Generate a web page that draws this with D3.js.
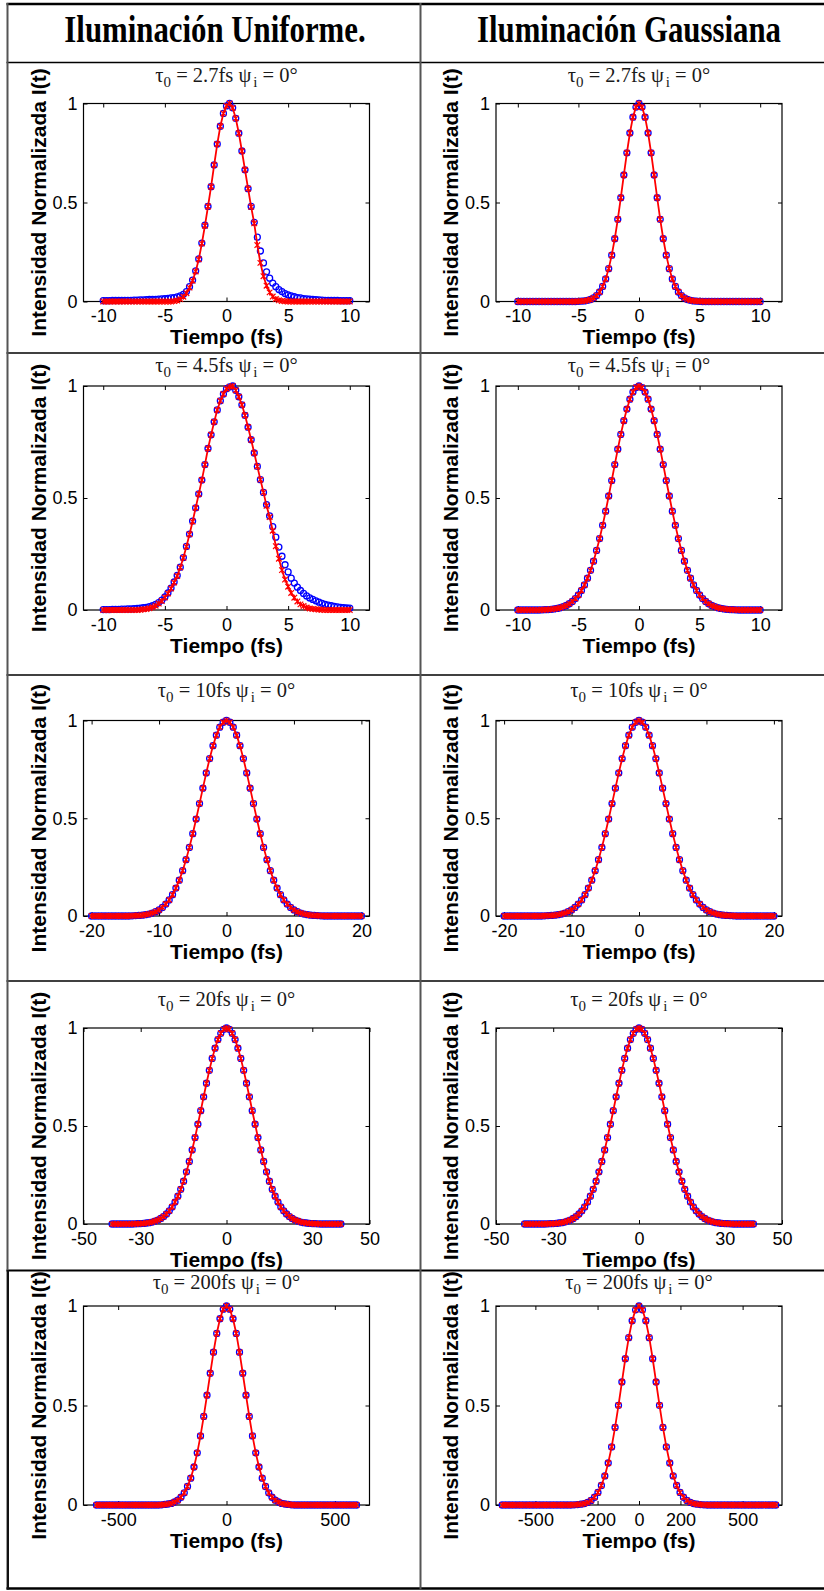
<!DOCTYPE html>
<html><head><meta charset="utf-8">
<script src="https://cdn.jsdelivr.net/npm/d3@7"></script>
<style>body{margin:0;background:#fff}svg{display:block}</style>
</head><body>
<svg id="c" width="824" height="1591"></svg>
<script>
// ---------- sample times (fs) ----------
const tGrid10 = [-10,-9.75,-9.5,-9.25,-9,-8.75,-8.5,-8.25,-8,-7.75,-7.5,-7.25,-7,-6.75,-6.5,-6.25,-6,-5.75,-5.5,-5.25,-5,-4.75,-4.5,-4.25,-4,-3.75,-3.5,-3.25,-3,-2.75,-2.5,-2.25,-2,-1.75,-1.5,-1.25,-1,-0.75,-0.5,-0.25,0,0.25,0.5,0.75,1,1.25,1.5,1.75,2,2.25,2.5,2.75,3,3.25,3.5,3.75,4,4.25,4.5,4.75,5,5.25,5.5,5.75,6,6.25,6.5,6.75,7,7.25,7.5,7.75,8,8.25,8.5,8.75,9,9.25,9.5,9.75,10];
const tGrid20 = [-20,-19.5,-19,-18.5,-18,-17.5,-17,-16.5,-16,-15.5,-15,-14.5,-14,-13.5,-13,-12.5,-12,-11.5,-11,-10.5,-10,-9.5,-9,-8.5,-8,-7.5,-7,-6.5,-6,-5.5,-5,-4.5,-4,-3.5,-3,-2.5,-2,-1.5,-1,-0.5,0,0.5,1,1.5,2,2.5,3,3.5,4,4.5,5,5.5,6,6.5,7,7.5,8,8.5,9,9.5,10,10.5,11,11.5,12,12.5,13,13.5,14,14.5,15,15.5,16,16.5,17,17.5,18,18.5,19,19.5,20];
const tGrid40 = [-40,-39,-38,-37,-36,-35,-34,-33,-32,-31,-30,-29,-28,-27,-26,-25,-24,-23,-22,-21,-20,-19,-18,-17,-16,-15,-14,-13,-12,-11,-10,-9,-8,-7,-6,-5,-4,-3,-2,-1,0,1,2,3,4,5,6,7,8,9,10,11,12,13,14,15,16,17,18,19,20,21,22,23,24,25,26,27,28,29,30,31,32,33,34,35,36,37,38,39,40];
const tGrid600 = [-600,-585,-570,-555,-540,-525,-510,-495,-480,-465,-450,-435,-420,-405,-390,-375,-360,-345,-330,-315,-300,-285,-270,-255,-240,-225,-210,-195,-180,-165,-150,-135,-120,-105,-90,-75,-60,-45,-30,-15,0,15,30,45,60,75,90,105,120,135,150,165,180,195,210,225,240,255,270,285,300,315,330,345,360,375,390,405,420,435,450,465,480,495,510,525,540,555,570,585,600];
const tGrid660 = [-660,-643.5,-627,-610.5,-594,-577.5,-561,-544.5,-528,-511.5,-495,-478.5,-462,-445.5,-429,-412.5,-396,-379.5,-363,-346.5,-330,-313.5,-297,-280.5,-264,-247.5,-231,-214.5,-198,-181.5,-165,-148.5,-132,-115.5,-99,-82.5,-66,-49.5,-33,-16.5,0,16.5,33,49.5,66,82.5,99,115.5,132,148.5,165,181.5,198,214.5,231,247.5,264,280.5,297,313.5,330,346.5,363,379.5,396,412.5,429,445.5,462,478.5,495,511.5,528,544.5,561,577.5,594,610.5,627,643.5,660];

// ---------- normalized intensity readings ----------
// Row 1, uniform illumination (tau0 = 2.7 fs)
const u1Blue = [.004,.004,.004,.005,.005,.005,.005,.006,.006,.006,.007,.007,.008,.008,.009,.010,.010,.011,.012,.013,.014,.016,.018,.020,.023,.028,.036,.050,.075,.108,.155,.215,.295,.385,.480,.580,.690,.795,.885,.950,.988,1.000,.978,.925,.850,.760,.665,.570,.480,.400,.325,.255,.195,.150,.118,.093,.075,.060,.050,.040,.033,.028,.024,.020,.018,.015,.013,.012,.010,.009,.008,.007,.006,.006,.005,.005,.005,.004,.004,.004,.004];
const u1Red  = [0,0,0,0,0,0,0,0,0,0,0,0,0,0,0,0,0,0,0,0,0,0,0,.002,.005,.012,.024,.042,.070,.105,.152,.213,.293,.383,.480,.580,.690,.795,.885,.950,.988,1.000,.978,.925,.850,.760,.665,.570,.478,.395,.285,.195,.128,.080,.046,.025,.013,.006,.003,.001,0,0,0,0,0,0,0,0,0,0,0,0,0,0,0,0,0,0,0,0,0];
// Row 1, gaussian illumination
const g1 = [0,0,0,0,0,0,0,0,0,0,0,0,0,0,0,0,0,0,0,0,.001,.002,.003,.006,.010,.018,.030,.048,.076,.114,.166,.234,.317,.415,.524,.639,.751,.851,.931,.982,1,.982,.931,.851,.751,.639,.524,.415,.317,.234,.166,.114,.076,.048,.030,.018,.010,.006,.003,.002,.001,0,0,0,0,0,0,0,0,0,0,0,0,0,0,0,0,0,0,0,0];
// Row 2, uniform illumination (tau0 = 4.5 fs)
const u2Blue = [.002,.002,.002,.003,.003,.003,.004,.004,.005,.005,.006,.007,.008,.010,.012,.015,.019,.025,.033,.044,.058,.076,.098,.125,.154,.191,.234,.284,.339,.397,.456,.518,.580,.649,.721,.782,.840,.893,.934,.964,.988,.996,1.000,.981,.952,.916,.869,.816,.760,.701,.641,.582,.525,.470,.420,.372,.325,.281,.240,.202,.170,.142,.120,.102,.087,.074,.063,.054,.047,.041,.035,.030,.025,.022,.019,.016,.014,.012,.010,.009,.008];
const u2Red  = [0,0,0,0,0,0,0,0,0,0,0,0,.001,.003,.004,.008,.012,.019,.029,.040,.056,.074,.096,.123,.152,.190,.233,.283,.338,.395,.456,.518,.580,.649,.721,.782,.840,.893,.934,.964,.988,.996,1.000,.981,.952,.916,.869,.816,.760,.701,.641,.582,.525,.465,.415,.354,.285,.229,.178,.136,.104,.076,.055,.038,.025,.018,.011,.007,.005,.003,.002,.001,0,0,0,0,0,0,0,0,0];
// Row 2, gaussian illumination
const g2 = [0,0,0,0,0,0,0,0,.001,.0015,.002,.003,.005,.007,.010,.015,.020,.028,.038,.051,.067,.087,.112,.142,.177,.218,.266,.319,.378,.441,.509,.578,.649,.718,.784,.845,.897,.941,.973,.993,1,.993,.973,.941,.897,.845,.784,.718,.649,.578,.509,.441,.378,.319,.266,.218,.177,.142,.112,.087,.067,.051,.038,.028,.020,.015,.010,.007,.005,.003,.002,.0015,.001,0,0,0,0,0,0,0,0];
// Row 3 (tau0 = 10 fs), both illuminations
const g3 = [0,0,0,0,0,0,0,0,0,0,0,0,.001,.002,.003,.004,.007,.010,.015,.022,.031,.044,.061,.082,.109,.143,.183,.232,.288,.351,.421,.496,.575,.654,.732,.805,.871,.925,.966,.991,1,.991,.966,.925,.871,.805,.732,.654,.575,.496,.421,.351,.288,.232,.183,.143,.109,.082,.061,.044,.031,.022,.015,.010,.007,.004,.003,.002,.001,0,0,0,0,0,0,0,0,0,0,0,0];
// Row 4 (tau0 = 20 fs), both illuminations
const g4 = [0,0,0,0,0,0,0,0,.001,.0015,.002,.003,.005,.007,.010,.015,.020,.028,.038,.051,.067,.087,.112,.142,.177,.218,.266,.319,.378,.441,.509,.578,.649,.718,.784,.845,.897,.941,.973,.993,1,.993,.973,.941,.897,.845,.784,.718,.649,.578,.509,.441,.378,.319,.266,.218,.177,.142,.112,.087,.067,.051,.038,.028,.020,.015,.010,.007,.005,.003,.002,.0015,.001,0,0,0,0,0,0,0,0];
// Row 5 (tau0 = 200 fs)
const g5L = [0,0,0,0,0,0,0,0,0,0,0,0,0,0,0,0,0,0,0,0,.001,.003,.005,.008,.015,.024,.039,.061,.093,.135,.191,.262,.347,.445,.552,.662,.768,.862,.936,.984,1,.984,.936,.862,.768,.662,.552,.445,.347,.262,.191,.135,.093,.061,.039,.024,.015,.008,.005,.003,.001,0,0,0,0,0,0,0,0,0,0,0,0,0,0,0,0,0,0,0,0];
const g5R = [0,0,0,0,0,0,0,0,0,0,0,0,0,0,0,0,0,0,0,0,0,.001,.002,.004,.007,.013,.023,.039,.063,.098,.146,.211,.292,.390,.501,.618,.735,.841,.926,.981,1,.981,.926,.841,.735,.618,.501,.390,.292,.211,.146,.098,.063,.039,.023,.013,.007,.004,.002,.001,0,0,0,0,0,0,0,0,0,0,0,0,0,0,0,0,0,0,0,0,0];

// ---------- labels / ticks ----------
const columnTitles = ['Iluminación Uniforme.', 'Iluminación Gaussiana'];
const tauLabels = ['2.7', '4.5', '10', '20', '200'];
const yTicks = [0, 0.5, 1];
const xTicks10 = [-10, -5, 0, 5, 10];
const xTicks20 = [-20, -10, 0, 10, 20];
const xTicks50 = [-50, -30, 0, 30, 50];
const xTicks500 = [-500, 0, 500];
const xTicks500g = [-500, -200, 0, 200, 500];

const panels = [
  {row:0,col:0,xDomain:[-11.6,11.6],xTicks:xTicks10,t:tGrid10,blue:u1Blue,red:u1Red},
  {row:0,col:1,xDomain:[-11.8,11.8],xTicks:xTicks10,t:tGrid10,blue:g1,red:g1},
  {row:1,col:0,xDomain:[-11.6,11.6],xTicks:xTicks10,t:tGrid10,blue:u2Blue,red:u2Red},
  {row:1,col:1,xDomain:[-11.8,11.8],xTicks:xTicks10,t:tGrid10,blue:g2,red:g2},
  {row:2,col:0,xDomain:[-21.2,21.2],xTicks:xTicks20,t:tGrid20,blue:g3,red:g3},
  {row:2,col:1,xDomain:[-21.2,21.2],xTicks:xTicks20,t:tGrid20,blue:g3,red:g3},
  {row:3,col:0,xDomain:[-50,50],xTicks:xTicks50,t:tGrid40,blue:g4,red:g4},
  {row:3,col:1,xDomain:[-50,50],xTicks:xTicks50,t:tGrid40,blue:g4,red:g4},
  {row:4,col:0,xDomain:[-660,660],xTicks:xTicks500,t:tGrid600,blue:g5L,red:g5L},
  {row:4,col:1,xDomain:[-690,690],xTicks:xTicks500g,t:tGrid660,blue:g5R,red:g5R}
];

// ---------- layout ----------
const W = 824, H = 1591;
const colLeft = [7.5, 420];
const axL = 76, axW = 286;
const rowAxisTop = [103.5, 386, 720.5, 1028, 1306];
const rowAxisH = [198, 224, 195.5, 196, 199];
const rowTitleGap = [22, 14.5, 24, 22.5, 17.5];
const SANS = '"Liberation Sans", Arial, sans-serif';
const SERIF = '"Liberation Serif", "Times New Roman", serif';

const svg = d3.select('#c');
svg.append('rect').attr('width', W).attr('height', H).attr('fill', '#fff');

// table grid
const tbl = svg.append('g');
const hl = [[4,2.5],[62.5,1.4],[353,1.6],[675,1.4],[981,1.4],[1270.5,1.8],[1588.5,2.5]];
hl.forEach(([y,w]) => tbl.append('line').attr('x1',6.5).attr('x2',W).attr('y1',y).attr('y2',y).attr('stroke','#000').attr('stroke-width',w));
tbl.append('line').attr('x1',7.5).attr('x2',7.5).attr('y1',3).attr('y2',1270).attr('stroke','#555').attr('stroke-width',2);
tbl.append('line').attr('x1',7.8).attr('x2',7.8).attr('y1',1270).attr('y2',1589.5).attr('stroke','#111').attr('stroke-width',2.4);
tbl.append('line').attr('x1',420.5).attr('x2',420.5).attr('y1',3).attr('y2',1589.5).attr('stroke','#555').attr('stroke-width',2);

// column titles (condensed bold serif)
columnTitles.forEach((s,i) => {
  const cx = i === 0 ? 215 : 629;
  svg.append('text').attr('transform',`translate(${cx},42) scale(0.833,1)`).attr('text-anchor','middle')
    .attr('font-family',SERIF).attr('font-weight','bold').attr('font-size',37)
    .attr('fill','#000').text(s);
});

const redX = 'M-2.8,-2.8L2.8,2.8M-2.8,2.8L2.8,-2.8M0,-3L0,3';

panels.forEach(p => {
  const axH = rowAxisH[p.row];
  const x0 = colLeft[p.col] + axL, y0 = rowAxisTop[p.row];
  const x = d3.scaleLinear().domain(p.xDomain).range([0, axW]);
  const y = d3.scaleLinear().domain([0, 1]).range([axH, 0]);
  const g = svg.append('g').attr('transform', `translate(${x0},${y0})`);

  // title
  const tt = g.append('text').attr('x', axW/2).attr('y', -rowTitleGap[p.row]).attr('text-anchor','middle')
    .attr('font-family', SERIF).attr('font-size', 20.5).attr('fill', '#1a1a1a');
  tt.append('tspan').text('τ');
  tt.append('tspan').attr('font-size',15).attr('dy',5).text('0');
  tt.append('tspan').attr('dy',-5).text(' = ' + tauLabels[p.row] + 'fs ψ');
  tt.append('tspan').attr('font-size',15).attr('dy',5).attr('dx',2).text('i');
  tt.append('tspan').attr('dy',-5).text(' = 0°');

  // axes (MATLAB style, inward ticks on all sides)
  const fmt = d => String(d);
  const ax = [
    g.append('g').attr('transform',`translate(0,${axH})`).call(d3.axisBottom(x).tickValues(p.xTicks).tickFormat(fmt).tickSizeInner(-4).tickSizeOuter(0).tickPadding(8)),
    g.append('g').call(d3.axisTop(x).tickValues(p.xTicks).tickFormat('').tickSizeInner(-4).tickSizeOuter(0)),
    g.append('g').call(d3.axisLeft(y).tickValues(yTicks).tickFormat(fmt).tickSizeInner(-4).tickSizeOuter(0).tickPadding(6)),
    g.append('g').attr('transform',`translate(${axW},0)`).call(d3.axisRight(y).tickValues(yTicks).tickFormat('').tickSizeInner(-4).tickSizeOuter(0))
  ];
  ax.forEach(a => {
    a.select('.domain').remove();
    a.selectAll('line').attr('stroke','#000').attr('stroke-width',1);
    a.selectAll('text').attr('font-family',SANS).attr('font-size',18).attr('fill','#000');
  });
  g.append('rect').attr('width',axW).attr('height',axH).attr('fill','none').attr('stroke','#000').attr('stroke-width',1.2);

  // labels
  g.append('text').attr('x',axW/2).attr('y',axH+42.5).attr('text-anchor','middle')
    .attr('font-family',SANS).attr('font-weight','bold').attr('font-size',21).text('Tiempo (fs)');
  g.append('text').attr('transform',`translate(${-axL+38},${axH/2}) rotate(-90)`).attr('text-anchor','middle')
    .attr('font-family',SANS).attr('font-weight','bold').attr('font-size',21).text('Intensidad Normalizada I(t)');

  const blueData = p.t.map((t,i) => [t, p.blue[i]]);
  const redData = p.t.map((t,i) => [t, p.red[i]]);

  g.append('g').selectAll('circle').data(blueData).join('circle')
    .attr('cx', d => x(d[0])).attr('cy', d => y(d[1])).attr('r', 3)
    .attr('fill','none').attr('stroke','#0000ff').attr('stroke-width',1.3);
  g.append('path').datum(redData)
    .attr('d', d3.line().x(d => x(d[0])).y(d => y(d[1])))
    .attr('fill','none').attr('stroke','#ff0000').attr('stroke-width',1.8);
  g.append('g').selectAll('path').data(redData).join('path')
    .attr('transform', d => `translate(${x(d[0])},${y(d[1])})`).attr('d', redX)
    .attr('fill','none').attr('stroke','#ff0000').attr('stroke-width',1.2);
});
</script>
</body></html>
